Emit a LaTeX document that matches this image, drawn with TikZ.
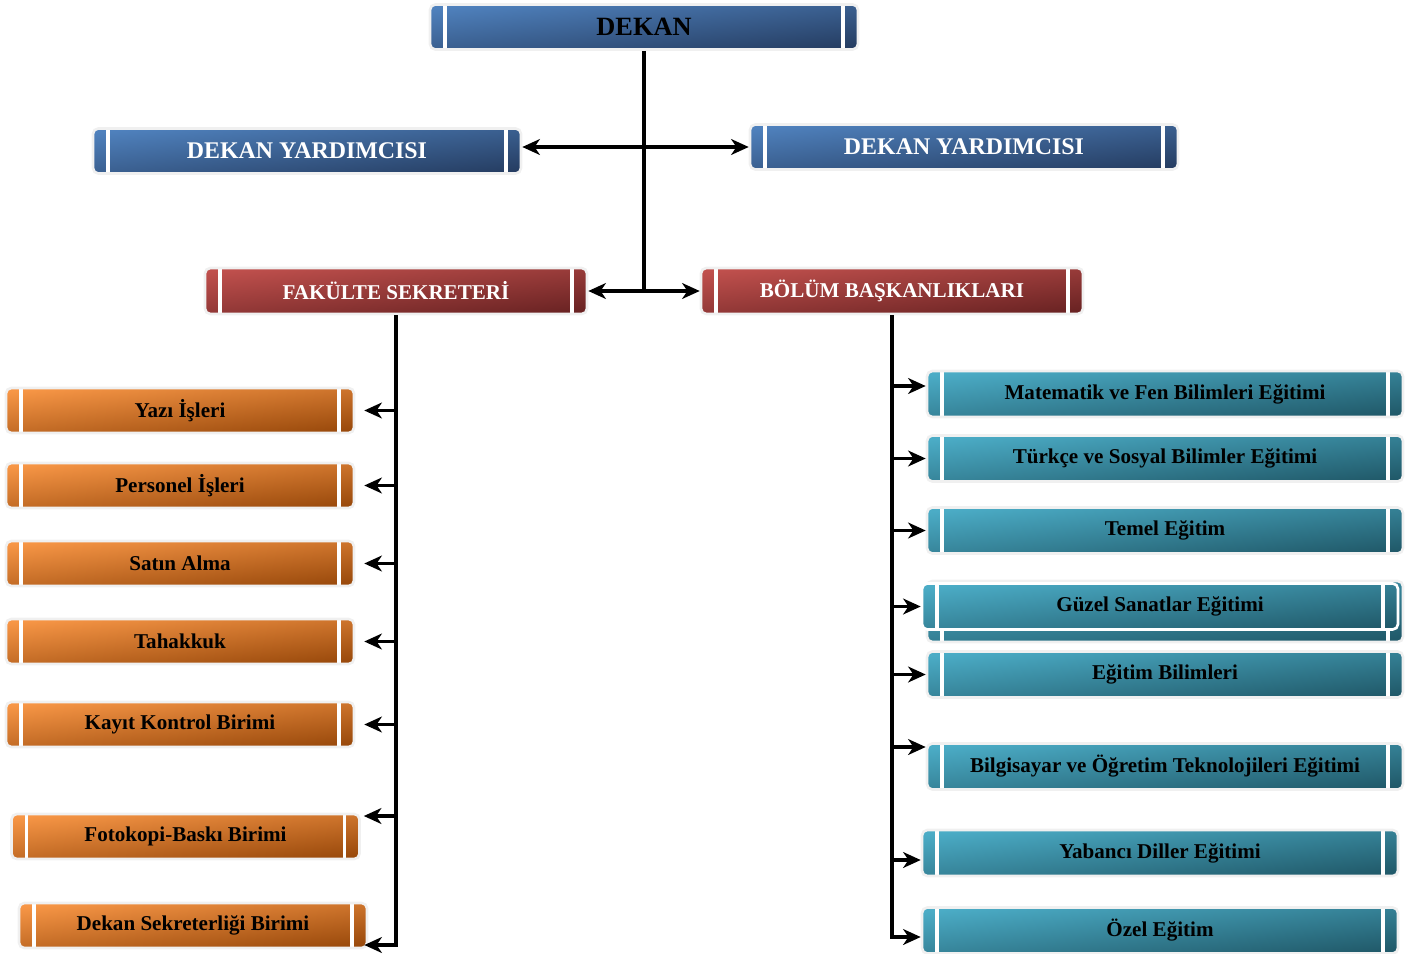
\documentclass[tikz,border=0pt]{standalone}
\usepackage{fontspec}
\setmainfont{Liberation Serif}
\usetikzlibrary{arrows.meta}

\definecolor{blueL}{HTML}{4F81BD}
\definecolor{blueD}{HTML}{263E63}
\definecolor{redL}{HTML}{C0504D}
\definecolor{redD}{HTML}{6A2323}
\definecolor{orangeL}{HTML}{F79646}
\definecolor{orangeD}{HTML}{9A4A0C}
\definecolor{tealL}{HTML}{4BACC6}
\definecolor{tealD}{HTML}{215A6A}

\begin{document}
\begin{tikzpicture}[
        x=0.02cm, y=-0.02cm,
        % Boites avec barres blanches
        unitbox/.style={rectangle, rounded corners=3pt, draw=gray!12, line width=1.5pt,
            minimum width=8.56cm, minimum height=0.9cm, inner sep=0pt, text centered,
            font=\bfseries\fontsize{12}{14}\selectfont,
            path picture={
                \draw[white, line width=1.8pt]
                    ([xshift=0.3cm]path picture bounding box.north west) -- ([xshift=0.3cm]path picture bounding box.south west)
                    ([xshift=-0.3cm]path picture bounding box.north east) -- ([xshift=-0.3cm]path picture bounding box.south east);
            }},
        bluebox/.style={unitbox, top color=blueL, bottom color=blueD, shading angle=6, text=white},
        redbox/.style={unitbox, top color=redL, bottom color=redD, shading angle=6, text=white, minimum width=7.64cm, minimum height=0.92cm},
        orangebox/.style={unitbox, top color=orangeL, bottom color=orangeD, shading angle=6, minimum width=6.96cm},
        tealbox/.style={unitbox, top color=tealL, bottom color=tealD, shading angle=6, minimum width=9.52cm, minimum height=0.92cm},
        % Fleches
        trunk/.style={line width=2pt},
        link/.style={-{Stealth[length=10pt, width=9pt, inset=3pt]}, line width=2pt},
        tolink/.style={link, shorten >=0.18cm}
    ]

    \useasboundingbox (0,0) rectangle (1415,953);

    % Direction
    \node[bluebox, text=black, font=\bfseries\fontsize{15}{17}\selectfont] (dekan) at (644,27) {DEKAN};
    \node[bluebox, font=\bfseries\fontsize{13.6}{16}\selectfont] (dyl) at (307,151) {DEKAN YARDIMCISI};
    \node[bluebox, font=\bfseries\fontsize{13.6}{16}\selectfont] (dyr) at (964,147) {DEKAN YARDIMCISI};
    \node[redbox] (fs) at (396,291) {FAKÜLTE SEKRETERİ};
    \node[redbox] (bb) at (892,291) {BÖLÜM BAŞKANLIKLARI};

    % Birimler (gauche)
    \node[orangebox] (yazi) at (180,410.5) {Yazı İşleri};
    \node[orangebox] (personel) at (180,485.5) {Personel İşleri};
    \node[orangebox] (satin) at (180,563.5) {Satın Alma};
    \node[orangebox] (tahakkuk) at (180,641.5) {Tahakkuk};
    \node[orangebox] (kayit) at (180,724.5) {Kayıt Kontrol Birimi};
    \node[orangebox] (foto) at (185.5,836.5) {Fotokopi-Baskı Birimi};
    \node[orangebox] (dsek) at (193,925.5) {Dekan Sekreterliği Birimi};

    % Bolumler (droite)
    \node[tealbox] (mat) at (1165,394) {Matematik ve Fen Bilimleri Eğitimi};
    \node[tealbox] (turk) at (1165,458.5) {Türkçe ve Sosyal Bilimler Eğitimi};
    \node[tealbox] (temel) at (1165,530.5) {Temel Eğitim};
    \node[tealbox, minimum height=1.22cm] (guzelbg) at (1165,611.5) {};
    \node[tealbox, draw=white] (guzel) at (1160,606.5) {Güzel Sanatlar Eğitimi};
    \node[tealbox] (egbil) at (1165,674.5) {Eğitim Bilimleri};
    \node[tealbox] (bote) at (1165,766.5) {Bilgisayar ve Öğretim Teknolojileri Eğitimi};
    \node[tealbox] (yabanci) at (1160,853) {Yabancı Diller Eğitimi};
    \node[tealbox] (ozel) at (1160,930.5) {Özel Eğitim};

    % Liaisons
    \coordinate (j1) at (644,147);
    \coordinate (j2) at (644,291);
    \draw[trunk] (dekan.south) -- (j2);
    \draw[link] (j1) -- (j1 -| dyl.east);
    \draw[link] (j1) -- (dyr.west);
    \draw[link] (j2) -- (fs.east);
    \draw[link] (j2) -- (bb.west);

    \draw[tolink] (fs.south) |- (yazi.east);
    \draw[tolink] (fs.south) |- (personel.east);
    \draw[tolink] (fs.south) |- (satin.east);
    \draw[tolink] (fs.south) |- (tahakkuk.east);
    \draw[tolink] (fs.south) |- (kayit.east);
    \draw[link, shorten >=0.06cm] (fs.south) |- ([yshift=0.41cm]foto.east);
    \draw[link, shorten >=-0.08cm] (fs.south) |- ([yshift=-0.39cm]dsek.east);

    \draw[link] (bb.south) |- ([yshift=0.16cm]mat.west);
    \draw[link] (bb.south) |- (turk.west);
    \draw[link] (bb.south) |- (temel.west);
    \draw[link] (bb.south) |- (guzel.west);
    \draw[link] (bb.south) |- (egbil.west);
    \draw[link] (bb.south) |- ([yshift=0.39cm]bote.west);
    \draw[link] (bb.south) |- ([yshift=-0.14cm]yabanci.west);
    \draw[link] (bb.south) |- ([yshift=-0.13cm]ozel.west);

\end{tikzpicture}
\end{document}
